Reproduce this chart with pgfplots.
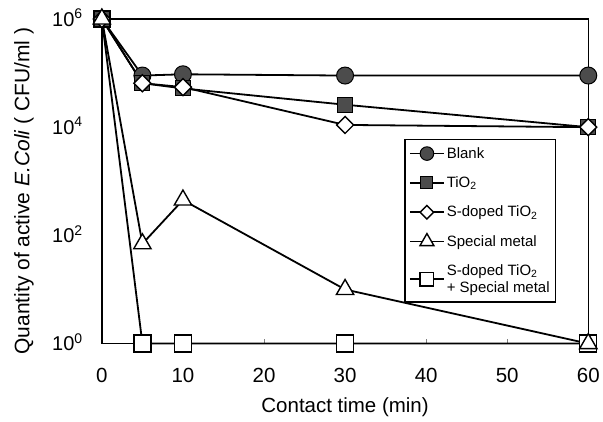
\documentclass[border=0pt]{standalone}
\usepackage{pgfplots}
\pgfplotsset{compat=1.18}
\usepackage{fontspec}
\setmainfont{Liberation Sans}
\begin{document}
\begin{tikzpicture}
\begin{axis}[
    width=487pt, height=325pt, scale only axis,
    ymode=log, log basis y=10,
    xmin=0, xmax=60, ymin=1, ymax=1e6,
    xtick={0,10,20,30,40,50,60},
    ytick={1,100,10000,1000000},
    yticklabels={10\textsuperscript{0},10\textsuperscript{2},10\textsuperscript{4},10\textsuperscript{6}},
    minor ytick={},
    tick align=inside,
    major tick length=5pt,
    xtick pos=bottom, ytick pos=left,
    ytick style={draw=none},
    /pgf/number format/assume math mode=true,
    xticklabel style={font=\fontsize{20.5}{24}\selectfont, anchor=center, yshift=-32pt},
    yticklabel style={font=\fontsize{20}{24}\selectfont, anchor=base east, inner sep=0pt, xshift=-19pt, yshift=-7.2pt},
    xlabel={Contact time (min)},
    ylabel={Quantity of active \textit{E.Coli} ( CFU/ml )},
    xlabel style={font=\fontsize{20.5}{24}\selectfont, at={(axis description cs:0.5,-0.197)}, anchor=center},
    ylabel style={font=\fontsize{21}{24}\selectfont, at={(axis description cs:-0.160,0.47)}, anchor=center},
    axis line style={line width=1.3pt},
    clip=false,
    legend style={at={(0.622,0.631)}, anchor=north west, draw=black, line width=1.3pt,
        font=\fontsize{15}{17}\selectfont, cells={align=left, anchor=west},
        row sep=13pt, inner xsep=4pt, inner ysep=6pt},
    legend image code/.code={
        \draw[mark repeat=2, mark phase=2, #1, line width=1.8pt]
        plot coordinates {(0pt,0pt) (17pt,0pt) (34pt,0pt)};},
    legend image post style={/tikz/every mark/.append style={scale=0.8}},
    every axis plot/.append style={line width=1.8pt, black},
    sqopen/.style={mark=square*, mark size=8.5pt, mark options={fill=white, draw=black, line width=1.4pt}},
  ]
  % Blank
  \addplot[mark=*, mark size=8.5pt, mark options={fill=black!70, draw=black, line width=1pt}]
    coordinates {(0,1e6) (5,9e4) (10,9.5e4) (30,9e4) (60,9e4)};
  \addlegendentry{Blank}
  % S-doped TiO2 + Special metal (drawn early, listed last in the legend)
  \addplot[sqopen, forget plot]
    coordinates {(0,1e6) (5,1) (10,1) (30,1) (60,1)};
  % TiO2
  \addplot[mark=square*, mark size=7.5pt, mark options={fill=black!70, draw=black, line width=1pt}]
    coordinates {(0,1e6) (5,6.5e4) (10,5.2e4) (30,2.6e4) (60,1e4)};
  \addlegendentry{TiO\textsubscript{2}}
  % S-doped TiO2
  \addplot[mark=square*, mark size=6pt, mark options={fill=white, draw=black, line width=1.4pt, rotate=45}]
    coordinates {(0,1e6) (5,6.5e4) (10,5.5e4) (30,1.1e4) (60,1e4)};
  \addlegendentry{S-doped TiO\textsubscript{2}}
  % Special metal
  \addplot[mark=triangle*, mark size=10pt, mark options={fill=white, draw=black, line width=1.4pt}]
    coordinates {(0,1e6) (5,70) (10,450) (30,10) (60,1)};
  \addlegendentry{Special metal}
  \addlegendimage{sqopen, black}
  \addlegendentry{S-doped TiO\textsubscript{2}\\+ Special metal}
\end{axis}
\path ([xshift=-102pt,yshift=-78pt]current axis.south west) rectangle ([xshift=14pt,yshift=19pt]current axis.north east);
\end{tikzpicture}
\end{document}
